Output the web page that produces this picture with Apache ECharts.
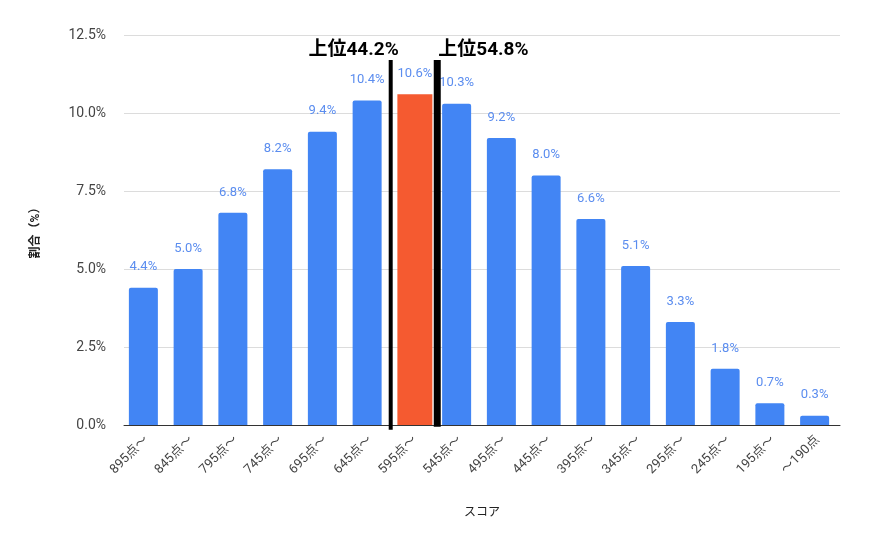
<!DOCTYPE html>
<html><head><meta charset="utf-8">
<script src="https://cdn.jsdelivr.net/npm/echarts@6/dist/echarts.min.js"></script>
<style>html,body{margin:0;padding:0;background:#fff}#c{width:872px;height:540px}</style>
</head><body><div id="c"></div>
<script>
const categories = ['895点〜','845点〜','795点〜','745点〜','695点〜','645点〜','595点〜','545点〜','495点〜','445点〜','395点〜','345点〜','295点〜','245点〜','195点〜','〜190点'];
const values = [4.4,5.0,6.8,8.2,9.4,10.4,10.6,10.3,9.2,8.0,6.6,5.1,3.3,1.8,0.7,0.3];
const highlightIndex = 6;
const yTicks = [0,2.5,5,7.5,10,12.5];
const markerPositions = [5.46, 6.5];
const markerTexts = ['上位44.2%','上位54.8%'];
const markerTop = 11.7;
const markerBottoms = [-0.15, -0.06];

const FONT = "Roboto, 'Noto Sans CJK JP', sans-serif";
const chart = echarts.init(document.getElementById('c'));
const blueData = values.map((v,i)=> i===highlightIndex ? '-' : v);
const redData = values.map((v,i)=> i===highlightIndex ? v : '-');
const barLabel = {show:true, position:'top', distance:14, color:'#5b8def', fontSize:13, fontFamily:FONT,
  formatter: p => p.value.toFixed(1)+'%'};

const markerSeries = markerPositions.map((x,k)=>({
  type:'line', xAxisIndex:1, yAxisIndex:0, clip:false, silent:true,
  symbolSize:0, showSymbol:true,
  lineStyle:{color:'#000', width: k===0?4:7},
  data:[
    {value:[x, markerTop], label:{show:true, position:'top', distance:3,
      align: k===0?'right':'left', offset:[k===0?8:1,3],
      formatter: markerTexts[k], color:'#000', fontWeight:'bold', fontSize:19, fontFamily:FONT}},
    {value:[x, markerBottoms[k]]}
  ],
  z:5
}));

chart.setOption({
  animation:false,
  textStyle:{fontFamily:FONT},
  grid:{left:124, right:32, top:35, bottom:115},
  xAxis:[{
    type:'category', data:categories,
    axisLine:{show:true, lineStyle:{color:'#333', width:1}},
    axisTick:{show:false},
    axisLabel:{rotate:45, color:'#444', fontSize:13, margin:13, interval:0, fontFamily:FONT},
    name:'スコア', nameLocation:'middle', nameGap:82,
    nameTextStyle:{color:'#222', fontSize:12, fontFamily:FONT}
  },{
    type:'value', min:-0.5, max:15.5, show:false
  }],
  yAxis:{
    type:'value', min:yTicks[0], max:yTicks[yTicks.length-1], interval:2.5,
    axisLine:{show:false}, axisTick:{show:false},
    splitLine:{lineStyle:{color:'#dcdcdc'}},
    axisLabel:{color:'#444', fontSize:14, margin:18, formatter: v => v.toFixed(1)+'%', fontFamily:FONT},
    name:'割合（%）', nameLocation:'middle', nameGap:82, nameRotate:90,
    nameTextStyle:{color:'#222', fontSize:12, fontWeight:'bold', fontFamily:FONT}
  },
  series:[
    {type:'bar', data:blueData, barWidth:29, itemStyle:{color:'#4285f4', borderRadius:[2,2,0,0]}, label:barLabel},
    {type:'bar', data:redData, barWidth:35, barGap:'-100%', itemStyle:{color:'#f55a30'}, label:barLabel},
    ...markerSeries
  ]
});
</script></body></html>
